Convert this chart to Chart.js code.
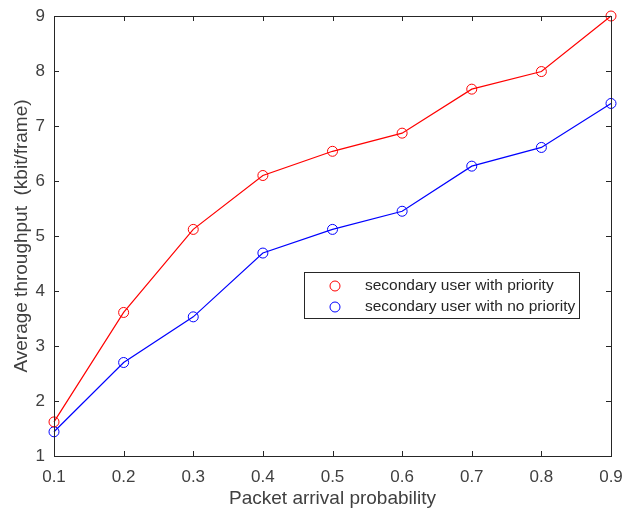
<!DOCTYPE html>
<html>
<head>
<meta charset="utf-8">
<script src="https://cdn.jsdelivr.net/npm/chart.js@4/dist/chart.umd.min.js"></script>
<style>
  html,body{margin:0;padding:0;background:#fff;}
  #wrap{width:622px;height:511px;position:relative;}
</style>
</head>
<body>
<div id="wrap"><canvas id="c" width="622" height="511"></canvas></div>
<script>
// values
const xValues = [0.1, 0.2, 0.3, 0.4, 0.5, 0.6, 0.7, 0.8, 0.9];
const withPriority = [1.62, 3.61, 5.12, 6.10, 6.54, 6.87, 7.67, 7.99, 9.0];
const noPriority = [1.44, 2.70, 3.53, 4.69, 5.12, 5.45, 6.27, 6.61, 7.41];
const xTicks = [0.1, 0.2, 0.3, 0.4, 0.5, 0.6, 0.7, 0.8, 0.9];
const yTicks = [1, 2, 3, 4, 5, 6, 7, 8, 9];
const seriesNames = ['secondary user with priority', 'secondary user with no priority'];

const axisColor = '#262626';
const textColor = '#404040';
const font = 'Liberation Sans, Arial, sans-serif';

const pts = ys => xValues.map((x,i)=>({x, y: ys[i]}));

// box + inward ticks on all four sides, like the matlab axes
const boxPlugin = {
  id: 'box',
  afterDatasetsDraw(chart){
    const {ctx, chartArea:a, scales} = chart;
    ctx.save();
    ctx.strokeStyle = axisColor; ctx.lineWidth = 1;
    ctx.strokeRect(Math.round(a.left)+0.5, Math.round(a.top)+0.5, Math.round(a.right-a.left), Math.round(a.bottom-a.top));
    ctx.beginPath();
    xTicks.forEach(v=>{
      const px = Math.round(scales.x.getPixelForValue(v))+0.5;
      ctx.moveTo(px, a.bottom); ctx.lineTo(px, a.bottom-5);
      ctx.moveTo(px, a.top); ctx.lineTo(px, a.top+5);
    });
    yTicks.forEach(v=>{
      const py = Math.round(scales.y.getPixelForValue(v))+0.5;
      ctx.moveTo(a.left, py); ctx.lineTo(a.left+5, py);
      ctx.moveTo(a.right, py); ctx.lineTo(a.right-5, py);
    });
    ctx.stroke();
    ctx.restore();
  }
};

// legend box inside the plot
const legendPlugin = {
  id: 'inlegend',
  afterDraw(chart){
    const {ctx} = chart;
    const x0 = 304, y0 = 272, w = 275, h = 46;
    ctx.save();
    ctx.fillStyle = '#fff';
    ctx.fillRect(x0, y0, w, h);
    ctx.strokeStyle = axisColor; ctx.lineWidth = 1;
    ctx.strokeRect(x0+0.5, y0+0.5, w, h);
    chart.data.datasets.forEach((ds,i)=>{
      const cy = y0 + 14 + i*21;
      ctx.beginPath();
      ctx.strokeStyle = ds.borderColor;
      ctx.arc(335, cy, 5, 0, Math.PI*2);
      ctx.stroke();
      ctx.fillStyle = axisColor;
      ctx.font = '15.5px ' + font;
      ctx.textBaseline = 'middle';
      ctx.fillText(ds.label, 365, cy);
    });
    ctx.restore();
  }
};

new Chart(document.getElementById('c'), {
  type: 'line',
  data: {
    datasets: [
      {label: seriesNames[0], data: pts(withPriority), borderColor:'#ff0000', backgroundColor:'rgba(0,0,0,0)', borderWidth:1.2, pointRadius:5, pointBorderWidth:1, pointBackgroundColor:'rgba(0,0,0,0)', pointBorderColor:'#ff0000', tension:0, clip:false},
      {label: seriesNames[1], data: pts(noPriority), borderColor:'#0000ff', backgroundColor:'rgba(0,0,0,0)', borderWidth:1.2, pointRadius:5, pointBorderWidth:1, pointBackgroundColor:'rgba(0,0,0,0)', pointBorderColor:'#0000ff', tension:0, clip:false}
    ]
  },
  options: {
    responsive:false, animation:false,
    layout:{padding:{top:16, right:11, left:0, bottom:0}},
    plugins:{legend:{display:false}, tooltip:{enabled:false}},
    scales:{
      x:{
        type:'linear', min:0.1, max:0.9,
        afterBuildTicks: s => { s.ticks = xTicks.map(v=>({value:v})); },
        afterFit: s => { s.height = 55; s.paddingLeft = 0; s.paddingRight = 0; },
        grid:{display:false, drawTicks:false},
        border:{display:false},
        ticks:{color:textColor, font:{family:font, size:17}, padding:11, maxRotation:0, callback:v=>v.toFixed(1)},
        title:{display:true, text:'Packet arrival probability', color:textColor, font:{family:font, size:19}, padding:{top:4, bottom:1}}
      },
      y:{
        min:1, max:9,
        afterBuildTicks: s => { s.ticks = yTicks.map(v=>({value:v})); },
        afterFit: s => { s.width = 54; s.paddingTop = 0; s.paddingBottom = 0; },
        grid:{display:false, drawTicks:false},
        border:{display:false},
        ticks:{color:textColor, font:{family:font, size:17}, padding:9},
        title:{display:true, text:'Average throughput  (kbit/frame)', color:textColor, font:{family:font, size:19}, padding:{top:10, bottom:4}}
      }
    }
  },
  plugins:[boxPlugin, legendPlugin]
});
</script>
</body>
</html>
